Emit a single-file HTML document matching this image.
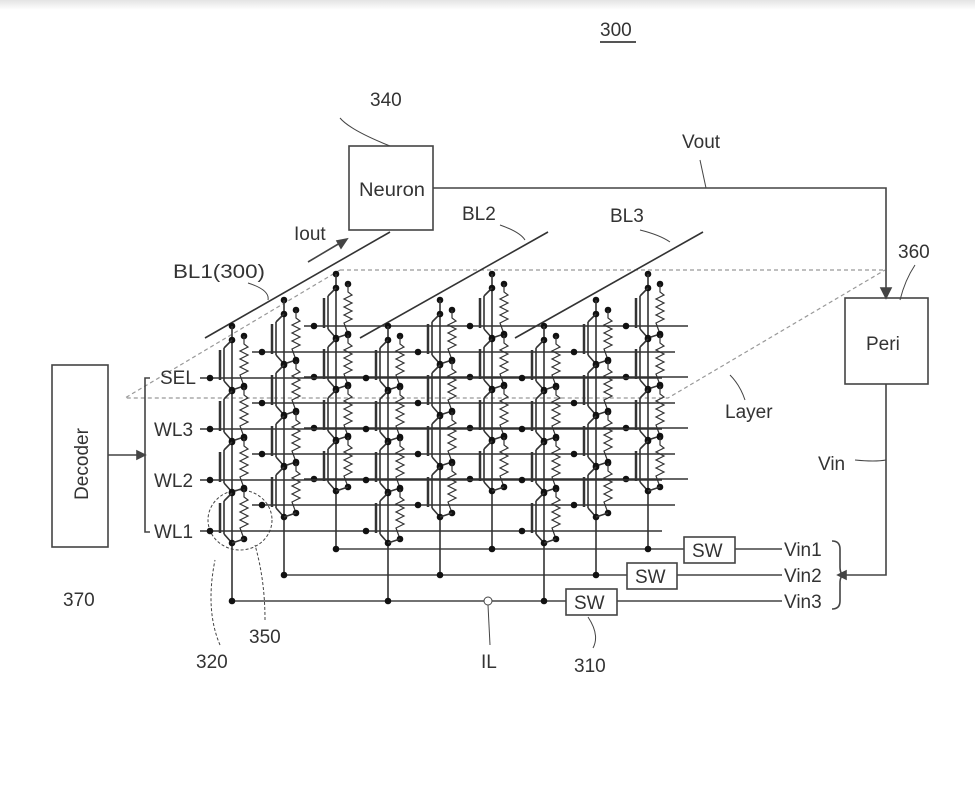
<!DOCTYPE html>
<html><head><meta charset="utf-8">
<style>
html,body{margin:0;padding:0;background:#fff;}
body{width:975px;height:794px;overflow:hidden;position:relative;}
.top{position:absolute;left:0;top:0;width:975px;height:10px;background:linear-gradient(#e4e4e4,#fff);}
svg{position:absolute;left:0;top:0;}
text{font-family:"Liberation Sans",sans-serif;fill:#333;font-size:19px;}
</style></head><body>
<div class="top"></div>
<svg id="s" width="975" height="794" viewBox="0 0 975 794" xmlns="http://www.w3.org/2000/svg">
<g stroke="#444" fill="none" stroke-width="1.6">
<path d="M340,270 L885,270 M340,270 L125,398 L668,398 L885,270" stroke="#999" stroke-dasharray="4,3" stroke-width="1.2"/>
<rect x="349" y="146" width="84" height="84" fill="#fff"/>
<rect x="845" y="298" width="83" height="86" fill="#fff"/>
<rect x="52" y="365" width="56" height="182" fill="#fff"/>
<path d="M433,188 L886,188 L886,292"/>
<path d="M886,298 L881,288 L891,288 Z" fill="#444"/>
<path d="M886,384 L886,575 L845,575"/>
<path d="M838,575 L846,571 L846,579 Z" fill="#444"/>
<path d="M832,541 q8,0 8,8 v18 q0,8 5,8 q-5,0 -5,8 v18 q0,8 -8,8"/>
<path d="M108,455 L140,455"/><path d="M145,455 L137,451 L137,459 Z" fill="#444"/>
<path d="M150,378 L145,378 L145,532 L150,532"/>
<path d="M337,549 L684,549 M287,575 L627,575 M233,601 L566,601"/>
<rect x="684" y="537" width="51" height="26" fill="#fff"/>
<rect x="627" y="563" width="50" height="26" fill="#fff"/>
<rect x="566" y="589" width="51" height="26" fill="#fff"/>
<path d="M735,549 L782,549 M677,575 L782,575 M617,601 L782,601"/>
<path d="M308,262 L340,243"/><path d="M347,239 L337,241 L341,248 Z" fill="#444"/>
<path d="M340,118 Q350,130 390,146" stroke-width="1" />
<path d="M248,283 Q270,290 268,300" stroke-width="1"/>
<path d="M500,225 Q520,232 525,240" stroke-width="1"/>
<path d="M640,230 Q660,235 670,242" stroke-width="1"/>
<path d="M915,265 Q905,280 900,300" stroke-width="1"/>
<path d="M745,400 Q740,385 730,375" stroke-width="1"/>
<path d="M855,460 Q875,462 886,460" stroke-width="1"/>
<path d="M700,160 L706,188" stroke-width="1"/>
<path d="M588,617 Q600,635 593,648" stroke-width="1"/>
<path d="M220,645 Q205,610 215,560" stroke-width="1" stroke-dasharray="3,2"/>
<path d="M265,620 Q265,580 255,545" stroke-width="1" stroke-dasharray="3,2"/>
<ellipse cx="240" cy="520" rx="32" ry="30" stroke-width="1" stroke-dasharray="3,2"/>
<circle cx="488" cy="601" r="4" fill="#fff" stroke-width="1"/>
<path d="M488,605 L490,645" stroke-width="1"/>
</g>
<g id="grid" stroke="#333" fill="none" stroke-width="1.6"></g>
<g>
<text x="600" y="36">300</text>
<line x1="600" y1="42" x2="636" y2="42" stroke="#555" stroke-width="2"/>
<text x="370" y="106">340</text>
<text x="359" y="196" font-size="18" textLength="66" lengthAdjust="spacingAndGlyphs">Neuron</text>
<text x="682" y="148">Vout</text>
<text x="462" y="220">BL2</text>
<text x="610" y="222">BL3</text>
<text x="294" y="240">Iout</text>
<text x="173" y="278" textLength="92" lengthAdjust="spacingAndGlyphs">BL1(300)</text>
<text x="898" y="258">360</text>
<text x="866" y="350" font-size="18">Peri</text>
<text x="725" y="418">Layer</text>
<text x="818" y="470">Vin</text>
<text x="160" y="384" font-size="18">SEL</text>
<text x="154" y="436" font-size="18">WL3</text>
<text x="154" y="487" font-size="18">WL2</text>
<text x="154" y="538" font-size="18">WL1</text>
<text x="88" y="500" font-size="18" transform="rotate(-90 88 500)" textLength="72" lengthAdjust="spacingAndGlyphs">Decoder</text>
<text x="63" y="606">370</text>
<text x="196" y="668">320</text>
<text x="249" y="643">350</text>
<text x="481" y="668">IL</text>
<text x="574" y="672">310</text>
<text x="692" y="557" font-size="17">SW</text>
<text x="635" y="583" font-size="17">SW</text>
<text x="574" y="609" font-size="17">SW</text>
<text x="784" y="556" font-size="18">Vin1</text>
<text x="784" y="582" font-size="18">Vin2</text>
<text x="784" y="608" font-size="18">Vin3</text>
</g>
</svg>
<script>
(function(){
var g=document.getElementById('grid'),h='';
function L(a,b,c,d,w){h+='<path d="M'+a+','+b+' L'+c+','+d+'"'+(w?' stroke-width="'+w+'"':'')+'/>';}
function D(x,y){h+='<circle cx="'+x+'" cy="'+y+'" r="3.3" fill="#111" stroke="none"/>';}
var bot=[601,575,549];
[[205,338,390,232],[360,338,548,232],[515,338,703,232]].forEach(function(b){L(b[0],b[1],b[2],b[3]);});
for(var Ly=2;Ly>=0;Ly--){
 var dx=52*Ly,dy=-26*Ly;
 for(var r=0;r<4;r++){
  var y=378+51*r+dy;
  L(200+dx,y,662+13*Ly,y);
 }
 for(var c=0;c<3;c++){
  var x0=232+156*c+dx;
  var ytop=378+dy-44;
  L(x0,ytop,x0,bot[Ly]); D(x0,bot[Ly]);
  D(x0,ytop-8); L(x0,ytop-8,x0,ytop);
  for(var r=0;r<4;r++){
   var y=378+51*r+dy;
   var t=y-38;
   D(x0,t); D(x0+12,t-4);
   L(x0,t,x0-8,t+8); L(x0-8,t+8,x0-8,y+3); L(x0-8,y+3,x0,y+12);
   L(x0-12,t+10,x0-12,y+2,2.5);
   D(x0-22,y);
   var p='M'+(x0+12)+','+(t-4)+' L'+(x0+12)+','+(t+4);
   for(var k=0;k<8;k++){p+=' L'+(x0+12+(k%2?-4:4))+','+(t+7+k*4);}
   p+=' L'+(x0+12)+','+(y+8);
   h+='<path d="'+p+'" stroke-width="1.2"/>';
   D(x0+12,y+8); D(x0,y+12);
   L(x0,y+12,x0+12,y+8);
  }
 }
}
g.innerHTML=h;
})();
</script>
</body></html>
